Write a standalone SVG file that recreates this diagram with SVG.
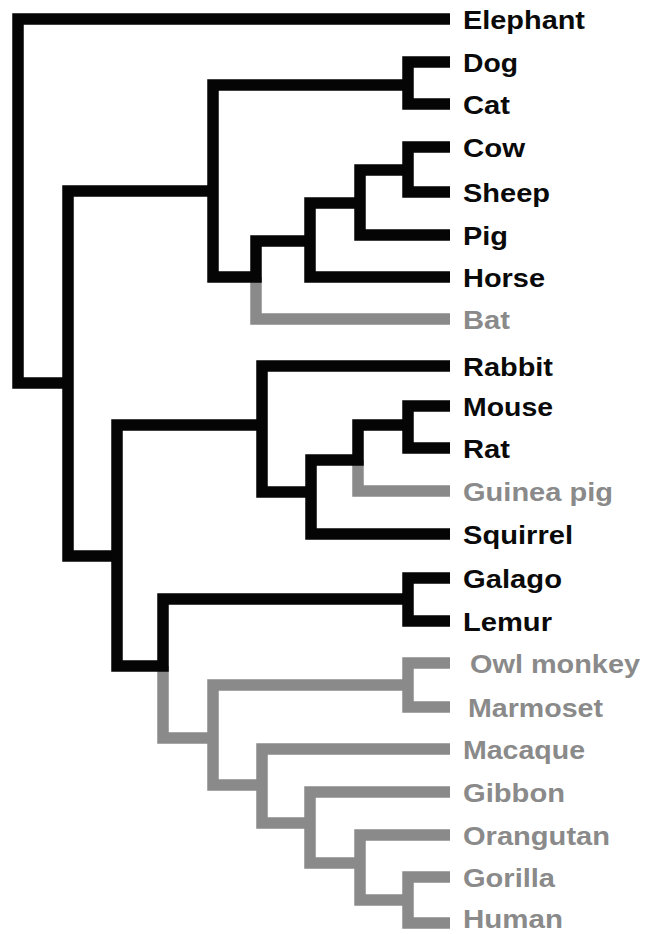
<svg xmlns="http://www.w3.org/2000/svg" width="645" height="934" viewBox="0 0 645 934">
<style>
.b{fill:none;stroke:#050505;stroke-width:11.5;stroke-linejoin:miter;stroke-linecap:butt}
.g{fill:none;stroke:#8a8a8a;stroke-width:11.5;stroke-linejoin:miter;stroke-linecap:butt}
text{font-family:"Liberation Sans",Arial,sans-serif;font-weight:bold;font-size:26px}
.tb{fill:#0a0a0a}
.tg{fill:#8a8a8a}
</style>
<rect width="645" height="934" fill="#ffffff"/>
<g id="connectors">
  <path class="g" d="M256,277 V319 H450"/>
  <path class="g" d="M358,460 V491 H450"/>
  <path class="g" d="M163,666 V738 H213"/>
  <path class="g" d="M408,685 H213 V785 H262"/>
  <path class="g" d="M450,663 H408 V707 H450"/>
  <path class="g" d="M450,749 H262 V823 H310"/>
  <path class="g" d="M450,792 H310 V863 H360"/>
  <path class="g" d="M450,835 H360 V900 H408"/>
  <path class="g" d="M450,877 H408 V923 H450"/>
  <path class="b" d="M450,19 H18 V383 H68"/>
  <path class="b" d="M213,191 H68 V556 H117"/>
  <path class="b" d="M408,85 H213 V277 H256 V241 H310"/>
  <path class="b" d="M450,62 H408 V104 H450"/>
  <path class="b" d="M450,277 H310 V203 H360"/>
  <path class="b" d="M450,235 H360 V170 H408"/>
  <path class="b" d="M450,147 H408 V192 H450"/>
  <path class="b" d="M408,599 H163 V666 H117 V425 H262"/>
  <path class="b" d="M450,366 H262 V492 H311"/>
  <path class="b" d="M450,534 H311 V460 H358 V425 H408"/>
  <path class="b" d="M450,406 H408 V448 H450"/>
  <path class="b" d="M450,578 H408 V621 H450"/>
</g>
<g id="elephant"><text class="tb" x="463" y="29" textLength="122" lengthAdjust="spacingAndGlyphs">Elephant</text></g>
<g id="dog"><text class="tb" x="463" y="72" textLength="55" lengthAdjust="spacingAndGlyphs">Dog</text></g>
<g id="cat"><text class="tb" x="463" y="114" textLength="47" lengthAdjust="spacingAndGlyphs">Cat</text></g>
<g id="cow"><text class="tb" x="463" y="157" textLength="62" lengthAdjust="spacingAndGlyphs">Cow</text></g>
<g id="sheep"><text class="tb" x="463" y="202" textLength="87" lengthAdjust="spacingAndGlyphs">Sheep</text></g>
<g id="pig"><text class="tb" x="463" y="245" textLength="45" lengthAdjust="spacingAndGlyphs">Pig</text></g>
<g id="horse"><text class="tb" x="463" y="287" textLength="82" lengthAdjust="spacingAndGlyphs">Horse</text></g>
<g id="bat"><text class="tg" x="463" y="329" textLength="47" lengthAdjust="spacingAndGlyphs">Bat</text></g>
<g id="rabbit"><text class="tb" x="463" y="376" textLength="90" lengthAdjust="spacingAndGlyphs">Rabbit</text></g>
<g id="mouse"><text class="tb" x="463" y="416" textLength="90" lengthAdjust="spacingAndGlyphs">Mouse</text></g>
<g id="rat"><text class="tb" x="463" y="458" textLength="47" lengthAdjust="spacingAndGlyphs">Rat</text></g>
<g id="guinea-pig"><text class="tg" x="463" y="501" textLength="150" lengthAdjust="spacingAndGlyphs">Guinea pig</text></g>
<g id="squirrel"><text class="tb" x="463" y="544" textLength="110" lengthAdjust="spacingAndGlyphs">Squirrel</text></g>
<g id="galago"><text class="tb" x="463" y="588" textLength="99" lengthAdjust="spacingAndGlyphs">Galago</text></g>
<g id="lemur"><text class="tb" x="463" y="631" textLength="89" lengthAdjust="spacingAndGlyphs">Lemur</text></g>
<g id="owl-monkey"><text class="tg" x="470" y="673" textLength="170" lengthAdjust="spacingAndGlyphs">Owl monkey</text></g>
<g id="marmoset"><text class="tg" x="468" y="717" textLength="135" lengthAdjust="spacingAndGlyphs">Marmoset</text></g>
<g id="macaque"><text class="tg" x="463" y="759" textLength="122" lengthAdjust="spacingAndGlyphs">Macaque</text></g>
<g id="gibbon"><text class="tg" x="463" y="802" textLength="102" lengthAdjust="spacingAndGlyphs">Gibbon</text></g>
<g id="orangutan"><text class="tg" x="463" y="845" textLength="147" lengthAdjust="spacingAndGlyphs">Orangutan</text></g>
<g id="gorilla"><text class="tg" x="463" y="887" textLength="92" lengthAdjust="spacingAndGlyphs">Gorilla</text></g>
<g id="human"><text class="tg" x="463" y="928" textLength="100" lengthAdjust="spacingAndGlyphs">Human</text></g>
</svg>
